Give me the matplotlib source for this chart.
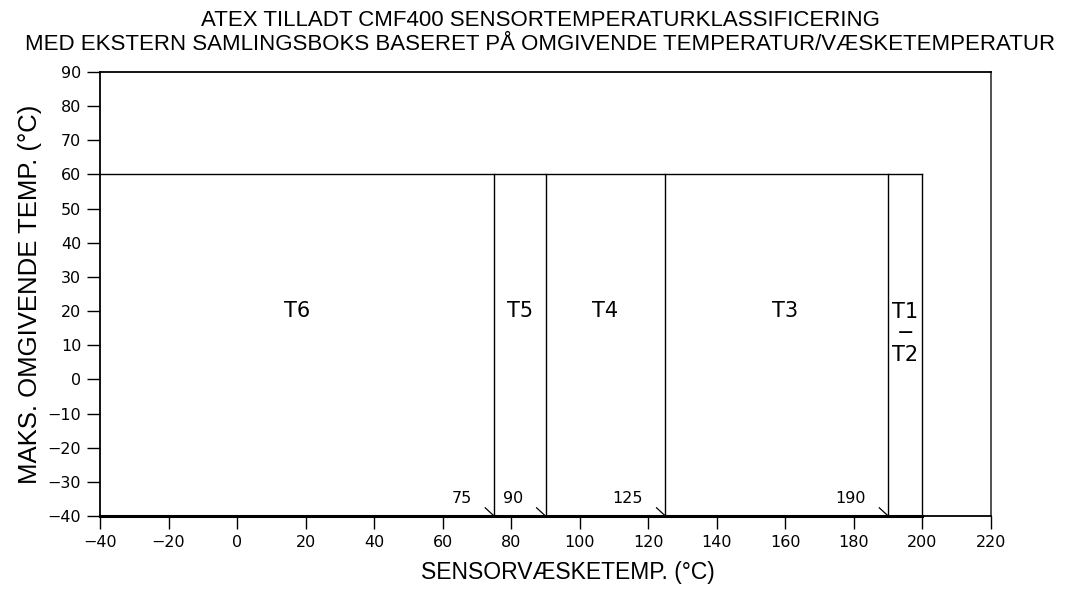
import matplotlib
matplotlib.use('Agg')
import matplotlib.pyplot as plt

# grenser for temperaturklasser (sensorvæsketemp.)
bounds = [75, 90, 125, 190, 200]
bound_labels = ['75', '90', '125', '190']
x_min, x_max = -40, 220
y_min, y_max = -40, 90
amb_max = 60

zone_names = ['T6', 'T5', 'T4', 'T3', 'T1\n\u2212\nT2']
zone_x = [17.5, 82.5, 107.5, 160, 195]
zone_y = [20, 20, 20, 20, 20]

x_ticks = list(range(-40, 221, 20))
y_ticks = list(range(-40, 91, 10))

plt.rcParams['font.family'] = ['DejaVu Sans']

fig = plt.figure(figsize=(10.75, 5.94), dpi=100)
ax = fig.add_axes([100 / 1075, 78 / 594, 891 / 1075, 444 / 594])

# ramme for T-områder
ax.plot([x_min, bounds[-1]], [amb_max, amb_max], color='black', lw=1.0)
for b in bounds:
    ax.plot([b, b], [y_min, amb_max], color='black', lw=1.0)
ax.plot([x_min, bounds[-1]], [y_min, y_min], color='black', lw=2.2, clip_on=False)

# T-betegnelser
for name, zx, zy in zip(zone_names, zone_x, zone_y):
    if '\n' in name:
        ax.text(zx, zy + 2.8, name, ha='center', va='top', fontsize=15, linespacing=1.12)
    else:
        ax.text(zx, zy, name, ha='center', va='center', fontsize=15)

# grenseverdier med små piler
for b, lab in zip(bounds[:-1], bound_labels):
    ax.text(b - 6.5, -35, lab, ha='right', va='center', fontsize=11.5)
    ax.plot([b - 2.6, b], [y_min + 2.4, y_min], color='black', lw=0.9)

ax.set_xlim(x_min, x_max)
ax.set_ylim(y_min, y_max)
ax.set_xticks(x_ticks)
ax.set_yticks(y_ticks)
ax.set_xticklabels([str(v).replace('-', '\u2212') for v in x_ticks])
ax.set_yticklabels([str(v).replace('-', '\u2212') for v in y_ticks])
ax.tick_params(direction='out', length=9.5, width=1.0, labelsize=11.5, pad=4)

for s in ax.spines.values():
    s.set_linewidth(1.3)
    s.set_color('black')
ax.spines['right'].set_color('#444444')

ax.set_xlabel('SENSORVÆSKETEMP. (°C)', fontsize=16.5, family='Liberation Sans')
ax.xaxis.set_label_coords((568 - 100) / 891, -(573 - 516) / 444)
ax.xaxis.label.set_va('center')
ax.set_ylabel('MAKS. OMGIVENDE TEMP. (°C)', fontsize=18.5, family='Liberation Sans', labelpad=4)

fig.text(540 / 1075, 1 - 21 / 594, 'ATEX TILLADT CMF400 SENSORTEMPERATURKLASSIFICERING',
         ha='center', va='center', fontsize=16, family='Liberation Sans')
fig.text(540 / 1075, 1 - 44 / 594,
         'MED EKSTERN SAMLINGSBOKS BASERET PÅ OMGIVENDE TEMPERATUR/VÆSKETEMPERATUR',
         ha='center', va='center', fontsize=16, family='Liberation Sans')

fig.savefig('out.png', dpi=100)
